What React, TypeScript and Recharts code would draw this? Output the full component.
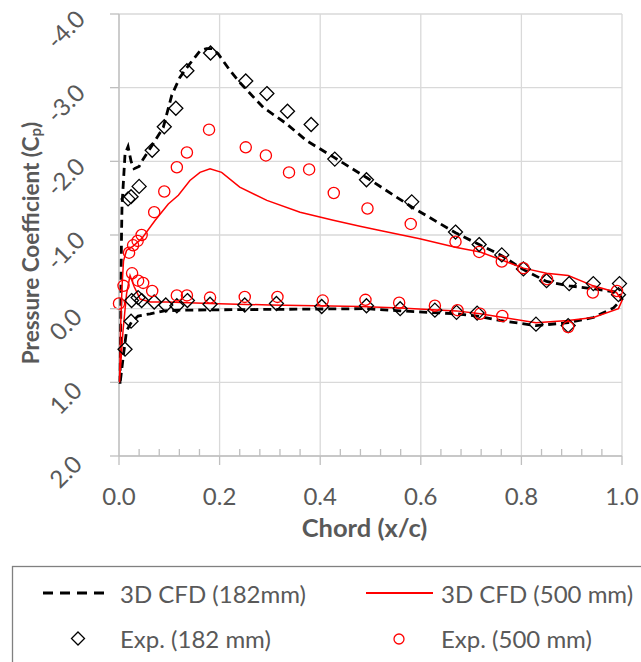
// Pressure coefficient distribution over the chord: CFD loops (182 / 500 mm) and experiment markers.

import { CartesianGrid, Scatter, ScatterChart, XAxis, YAxis } from 'recharts'

const FONT = 'Lato, "Noto Sans", sans-serif'
const INK = '#595959'
const GRID = '#d9d9d9'
const AXIS = '#bfbfbf'
const RED = '#ff0000'

// 3D CFD (182mm): LE -> upper surface -> TE -> lower surface -> LE
const cfd182X = [
  0.002, 0.003, 0.004, 0.005, 0.006, 0.009, 0.012, 0.018, 0.024, 0.03, 0.04, 0.048,
  0.068, 0.088, 0.105, 0.121, 0.138, 0.161, 0.174, 0.185, 0.197, 0.221, 0.24, 0.287,
  0.333, 0.373, 0.426, 0.492, 0.582, 0.669, 0.716, 0.761, 0.804, 0.85, 0.895, 0.943,
  0.993, 1.0, 0.983, 0.943, 0.893, 0.829, 0.757, 0.712, 0.671, 0.559, 0.492, 0.3,
  0.12, 0.09, 0.062, 0.038, 0.025, 0.015, 0.009, 0.002,
]
const cfd182Cp = [
  1.02, 0.5, -0.3, -1.0, -1.4, -1.75, -2.1, -2.2, -2.0, -1.9, -1.93, -2.03,
  -2.24, -2.46, -2.9, -3.14, -3.3, -3.5, -3.53, -3.53, -3.46, -3.23, -3.07, -2.73,
  -2.51, -2.28, -2.06, -1.78, -1.38, -1.03, -0.87, -0.72, -0.53, -0.37, -0.31, -0.27,
  -0.22, -0.13, -0.01, 0.12, 0.19, 0.23, 0.16, 0.1, 0.07, 0.03, 0.0, 0.01,
  0.02, 0.03, 0.07, 0.1, 0.18, 0.3, 0.62, 1.02,
]

// 3D CFD (500 mm)
const cfd500X = [
  0.001, 0.003, 0.006, 0.009, 0.015, 0.028, 0.045, 0.072, 0.098, 0.118, 0.141, 0.161,
  0.181, 0.204, 0.24, 0.294, 0.36, 0.426, 0.479, 0.519, 0.598, 0.671, 0.718, 0.761,
  0.804, 0.85, 0.893, 0.943, 0.989, 1.0, 0.993, 0.943, 0.893, 0.829, 0.764, 0.718,
  0.671, 0.559, 0.479, 0.3, 0.181, 0.095, 0.062, 0.042, 0.03, 0.022, 0.015, 0.008,
  0.001,
]
const cfd500Cp = [
  1.0, 0.3, -0.3, -0.65, -0.79, -0.85, -0.95, -1.2, -1.42, -1.54, -1.74, -1.85,
  -1.9, -1.85, -1.65, -1.47, -1.31, -1.2, -1.12, -1.06, -0.95, -0.83, -0.77, -0.66,
  -0.55, -0.48, -0.45, -0.31, -0.22, -0.11, 0.0, 0.12, 0.16, 0.19, 0.12, 0.07,
  0.03, -0.01, -0.03, -0.05, -0.07, -0.09, -0.09, -0.13, -0.3, -0.45, -0.2, 0.3,
  1.0,
]

// Exp. (182 mm)
const exp182X = [
  0.018, 0.024, 0.04, 0.066, 0.09, 0.113, 0.135, 0.182, 0.252, 0.294, 0.335, 0.382,
  0.429, 0.492, 0.582, 0.669, 0.716, 0.761, 0.804, 0.85, 0.895, 0.943, 0.995, 0.993,
  0.012, 0.024, 0.025, 0.038, 0.045, 0.07, 0.093, 0.115, 0.136, 0.181, 0.25, 0.313,
  0.403, 0.492, 0.559, 0.628, 0.671, 0.712, 0.829, 0.893,
]
const exp182Cp = [
  -1.49, -1.52, -1.66, -2.15, -2.47, -2.72, -3.23, -3.47, -3.09, -2.92, -2.68, -2.5,
  -2.03, -1.75, -1.45, -1.04, -0.87, -0.73, -0.54, -0.38, -0.34, -0.34, -0.34, -0.19,
  0.55, 0.17, -0.11, -0.15, -0.11, -0.09, -0.05, -0.04, -0.11, -0.06, -0.05, -0.07,
  -0.03, -0.04, 0.0, 0.02, 0.05, 0.06, 0.21, 0.23,
]

// Exp. (500 mm)
const exp500X = [
  0.0, 0.009, 0.02, 0.028, 0.037, 0.045, 0.07, 0.09, 0.115, 0.135, 0.179, 0.252,
  0.292, 0.338, 0.378, 0.427, 0.494, 0.58, 0.669, 0.716, 0.761, 0.804, 0.851, 0.942,
  0.99, 0.026, 0.038, 0.048, 0.066, 0.115, 0.135, 0.181, 0.25, 0.315, 0.405, 0.49,
  0.557, 0.628, 0.673, 0.718, 0.762, 0.893,
]
const exp500Cp = [
  -0.07, -0.31, -0.76, -0.86, -0.92, -1.0, -1.31, -1.59, -1.92, -2.12, -2.43, -2.19,
  -2.08, -1.85, -1.89, -1.57, -1.36, -1.15, -0.91, -0.77, -0.64, -0.55, -0.4, -0.22,
  -0.24, -0.48, -0.38, -0.35, -0.24, -0.18, -0.18, -0.15, -0.16, -0.16, -0.11, -0.12,
  -0.08, -0.04, 0.02, 0.07, 0.1, 0.25,
]

const xMajorTicks = [0, 0.2, 0.4, 0.6, 0.8, 1.0]
const xAllTicks = [
  0, 0.04, 0.08, 0.12, 0.16, 0.2, 0.24, 0.28, 0.32, 0.36, 0.4, 0.44, 0.48,
  0.52, 0.56, 0.6, 0.64, 0.68, 0.72, 0.76, 0.8, 0.84, 0.88, 0.92, 0.96, 1.0,
]
const yTicks = [-4, -3, -2, -1, 0, 1, 2]

const zip = (xs: number[], ys: number[]) => xs.map((x, i) => ({ x, cp: ys[i] }))

const cfd182 = zip(cfd182X, cfd182Cp)
const cfd500 = zip(cfd500X, cfd500Cp)
const exp182 = zip(exp182X, exp182Cp)
const exp500 = zip(exp500X, exp500Cp)

const NoShape = () => <g />

const Diamond = ({ cx, cy }: any) => (
  <polygon
    points={`${cx},${cy - 7} ${cx + 7},${cy} ${cx},${cy + 7} ${cx - 7},${cy}`}
    fill="none"
    stroke="#000"
    strokeWidth={1.3}
  />
)

const Ring = ({ cx, cy }: any) => (
  <circle cx={cx} cy={cy} r={5.6} fill="none" stroke={RED} strokeWidth={1.3} />
)

function XTick({ x, y, payload }: any) {
  const v = payload.value as number
  const major = xMajorTicks.some((m) => Math.abs(m - v) < 1e-6)
  if (!major) {
    return <line x1={x} x2={x} y1={y} y2={y - 7} stroke={AXIS} strokeWidth={1.3} />
  }
  return (
    <g>
      <line x1={x} x2={x} y1={y} y2={y + 9} stroke={AXIS} strokeWidth={1.3} />
      <text x={x} y={y + 39} textAnchor="middle" dominantBaseline="central"
        fontFamily={FONT} fontSize={24} fill={INK}>
        {v.toFixed(1)}
      </text>
    </g>
  )
}

function YTick({ x, y, payload }: any) {
  const tx = x - 54
  const ty = y + 15
  return (
    <g>
      <line x1={x - 9} x2={x} y1={y} y2={y} stroke={AXIS} strokeWidth={1.3} />
      <text x={tx} y={ty} textAnchor="middle" dominantBaseline="central"
        transform={`rotate(-45 ${tx} ${ty})`}
        fontFamily={FONT} fontSize={24} fill={INK}>
        {(payload.value as number).toFixed(1)}
      </text>
    </g>
  )
}

function XLabel({ viewBox }: any) {
  const cx = viewBox.x + viewBox.width / 2 - 6
  const cy = viewBox.y + 71
  return (
    <text x={cx} y={cy} textAnchor="middle" dominantBaseline="central"
      fontFamily={FONT} fontSize={25.5} fontWeight="bold" fill={INK}>
      Chord (x/c)
    </text>
  )
}

function YLabel({ viewBox }: any) {
  const cx = viewBox.x + 30
  const cy = viewBox.y + viewBox.height / 2 + 8
  return (
    <text x={cx} y={cy} textAnchor="middle" dominantBaseline="central"
      transform={`rotate(-90 ${cx} ${cy})`}
      fontFamily={FONT} fontSize={22.5} fontWeight="bold" fill={INK}>
      Pressure Coefficient (C<tspan fontSize={15} dy={5}>p</tspan>
      <tspan dy={-5}>)</tspan>
    </text>
  )
}

function LegendBox() {
  const txt = { fontFamily: FONT, fontSize: 24, fill: INK }
  return (
    <svg width={641} height={102} style={{ position: 'absolute', left: 0, top: 560 }}>
      <rect x={12.5} y={6.5} width={700} height={200} fill="none" stroke="#808080" strokeWidth={1.3} />
      <line x1={43} x2={108} y1={33} y2={33} stroke="#000" strokeWidth={3} strokeDasharray="10 7" />
      <text x={120} y={33} dominantBaseline="central" {...txt}>3D CFD (182mm)</text>
      <line x1={366} x2={433} y1={33} y2={33} stroke={RED} strokeWidth={2} />
      <text x={441} y={33} dominantBaseline="central" {...txt}>3D CFD (500 mm)</text>
      <polygon points="78,72 84.5,78.5 78,85 71.5,78.5" fill="none" stroke="#000" strokeWidth={1.3} />
      <text x={120} y={78} dominantBaseline="central" {...txt}>Exp. (182 mm)</text>
      <circle cx={399} cy={79} r={5} fill="none" stroke={RED} strokeWidth={1.3} />
      <text x={441} y={78} dominantBaseline="central" {...txt}>Exp. (500 mm)</text>
    </svg>
  )
}

export default function App() {
  return (
    <div style={{ position: 'absolute', left: 0, top: 0, width: 641, height: 662, background: '#fff', overflow: 'hidden' }}>
      <ScatterChart width={641} height={560} margin={{ top: 14, right: 19, left: 0, bottom: 0 }}>
        <CartesianGrid stroke={GRID} strokeWidth={1.3} verticalValues={xMajorTicks} horizontalValues={yTicks} />
        <XAxis
          type="number"
          dataKey="x"
          domain={[0, 1]}
          ticks={xAllTicks}
          interval={0}
          height={104}
          tickSize={0}
          tickMargin={0}
          tickLine={false}
          axisLine={{ stroke: AXIS, strokeWidth: 1.3 }}
          tick={<XTick />}
          label={<XLabel />}
        />
        <YAxis
          type="number"
          dataKey="cp"
          domain={[-4, 2]}
          reversed
          ticks={yTicks}
          interval={0}
          width={119}
          tickSize={0}
          tickMargin={0}
          tickLine={false}
          axisLine={{ stroke: AXIS, strokeWidth: 1.3 }}
          tick={<YTick />}
          label={<YLabel />}
        />
        <Scatter
          name="3D CFD (182mm)"
          data={cfd182}
          line={{ stroke: '#000', strokeWidth: 2.8, strokeDasharray: '8 5' }}
          lineType="joint"
          shape={<NoShape />}
          isAnimationActive={false}
        />
        <Scatter
          name="3D CFD (500 mm)"
          data={cfd500}
          line={{ stroke: RED, strokeWidth: 1.5 }}
          lineType="joint"
          shape={<NoShape />}
          isAnimationActive={false}
        />
        <Scatter name="Exp. (182 mm)" data={exp182} shape={<Diamond />} isAnimationActive={false} />
        <Scatter name="Exp. (500 mm)" data={exp500} shape={<Ring />} isAnimationActive={false} />
      </ScatterChart>
      <LegendBox />
    </div>
  )
}
